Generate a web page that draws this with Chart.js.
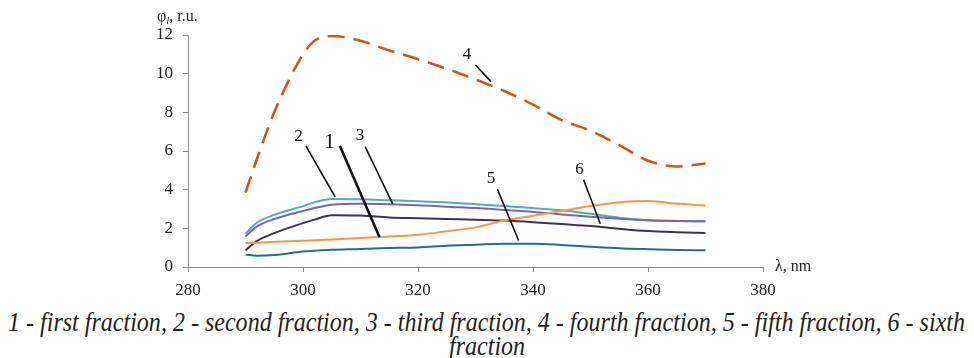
<!DOCTYPE html>
<html>
<head>
<meta charset="utf-8">
<script src="https://cdn.jsdelivr.net/npm/chart.js@4/dist/chart.umd.min.js"></script>
<style>
  body { margin: 0; background: #fff; width: 974px; height: 358px; overflow: hidden; }
  #wrap { position: relative; width: 974px; height: 300px; }
  #caption { position: absolute; left: 0; top: 300px; width: 974px; font-family: "Liberation Serif", serif; font-style: italic; color: #222; }
  #caption .l { position: absolute; white-space: nowrap; transform-origin: 0 0; font-size: 28px; line-height: 28px; }
</style>
</head>
<body>
<div id="wrap"><canvas id="chart" width="974" height="300"></canvas></div>
<div id="caption">
  <span class="l" id="cap1">1 - first fraction, 2 - second fraction, 3 - third fraction, 4 - fourth fraction, 5 - fifth fraction, 6 - sixth</span>
  <span class="l" id="cap2">fraction</span>
</div>
<script>
const wavelengths = [290, 292, 295, 300, 302, 305, 310, 315, 320, 325, 330, 335, 340, 345, 350, 355, 360, 365, 370];
const fraction1 = [0.86, 1.35, 1.75, 2.27, 2.45, 2.68, 2.66, 2.56, 2.52, 2.48, 2.45, 2.40, 2.32, 2.22, 2.12, 1.98, 1.86, 1.80, 1.76];
const fraction2 = [1.72, 2.30, 2.70, 3.15, 3.35, 3.52, 3.50, 3.45, 3.40, 3.34, 3.25, 3.15, 3.05, 2.93, 2.75, 2.55, 2.42, 2.38, 2.36];
const fraction3 = [1.58, 2.10, 2.48, 2.90, 3.05, 3.22, 3.27, 3.25, 3.20, 3.12, 3.05, 2.95, 2.85, 2.72, 2.60, 2.50, 2.42, 2.38, 2.36];
const fraction4 = [3.85, 5.60, 8.00, 11.0, 11.7, 11.95, 11.7, 11.2, 10.75, 10.25, 9.70, 9.10, 8.40, 7.60, 7.05, 6.30, 5.50, 5.20, 5.35];
const fraction5 = [0.64, 0.58, 0.62, 0.80, 0.84, 0.89, 0.93, 0.98, 1.01, 1.10, 1.15, 1.20, 1.20, 1.14, 1.05, 0.97, 0.92, 0.88, 0.86];
const fraction6 = [1.24, 1.26, 1.30, 1.36, 1.38, 1.42, 1.50, 1.58, 1.67, 1.85, 2.05, 2.40, 2.65, 2.90, 3.15, 3.35, 3.42, 3.28, 3.18];

const xTicks = [280, 300, 320, 340, 360, 380];
const yTicks = [0, 2, 4, 6, 8, 10, 12];

// callout labels: text, text position, leader line from/to (data units)
const callouts = [
  { text: '2', at: [299.2, 6.75], from: [300.5, 6.27], to: [305.6, 3.62], size: 17, width: 1.6 },
  { text: '1', at: [304.6, 6.45], from: [306.4, 6.27], to: [313.3, 1.55], size: 22, width: 2.6 },
  { text: '3', at: [309.9, 6.8], from: [310.8, 6.23], to: [315.6, 3.27], size: 17, width: 1.6 },
  { text: '4', at: [328.5, 10.97], from: [330.0, 10.45], to: [332.7, 9.59], size: 17, width: 1.6 },
  { text: '5', at: [332.7, 4.6], from: [333.8, 4.03], to: [337.5, 1.37], size: 17, width: 1.6 },
  { text: '6', at: [348.1, 5.06], from: [348.8, 4.51], to: [351.7, 2.24], size: 17, width: 1.6 }
];

function pts(values) {
  return values.map((v, i) => ({ x: wavelengths[i], y: v }));
}

function serie(values, color, dash, width) {
  return {
    data: pts(values),
    borderColor: color,
    borderWidth: width || 2,
    borderDash: dash || [],
    pointRadius: 0,
    fill: false,
    cubicInterpolationMode: 'monotone'
  };
}

const annotations = {
  id: 'annotations',
  afterDatasetsDraw(chart) {
    const ctx = chart.ctx;
    const xs = chart.scales.x, ys = chart.scales.y;
    ctx.save();
    ctx.fillStyle = '#111';
    ctx.strokeStyle = '#111';
    ctx.textAlign = 'center';
    ctx.textBaseline = 'middle';
    callouts.forEach(c => {
      ctx.lineWidth = c.width;
      ctx.beginPath();
      ctx.moveTo(xs.getPixelForValue(c.from[0]), ys.getPixelForValue(c.from[1]));
      ctx.lineTo(xs.getPixelForValue(c.to[0]), ys.getPixelForValue(c.to[1]));
      ctx.stroke();
      ctx.font = c.size + 'px "Liberation Serif"';
      ctx.fillText(c.text, xs.getPixelForValue(c.at[0]), ys.getPixelForValue(c.at[1]));
    });

    // axis titles
    ctx.textAlign = 'left';
    ctx.textBaseline = 'alphabetic';
    ctx.fillStyle = '#222';
    let x = 157, y = 21;
    ctx.font = '16px "Liberation Serif"';
    ctx.fillText('φ', x, y);
    x += ctx.measureText('φ').width;
    ctx.font = 'italic 11px "Liberation Serif"';
    ctx.fillText('l', x, y + 3);
    x += ctx.measureText('l').width;
    ctx.font = '16px "Liberation Serif"';
    ctx.fillText(', r.u.', x, y);

    ctx.fillText('λ, nm', xs.right + 12, ys.bottom + 4);
    ctx.restore();
  }
};

new Chart(document.getElementById('chart').getContext('2d'), {
  type: 'line',
  data: {
    datasets: [
      serie(fraction4, '#c55a1c', [17, 9], 2.6),
      serie(fraction6, '#f79646'),
      serie(fraction5, '#21707f'),
      serie(fraction1, '#403152'),
      serie(fraction3, '#8064a2'),
      serie(fraction2, '#4bacc6')
    ]
  },
  options: {
    responsive: false,
    animation: false,
    layout: { padding: { left: 0, right: 211, top: 35, bottom: 2 } },
    plugins: { legend: { display: false }, tooltip: { enabled: false } },
    scales: {
      x: {
        type: 'linear',
        min: 280,
        max: 380,
        afterBuildTicks: s => { s.ticks = xTicks.map(v => ({ value: v })); },
        afterFit: s => { s.height = 31; },
        grid: { drawOnChartArea: false, drawTicks: true, tickLength: 5, color: '#8a8a8a' },
        border: { color: '#8a8a8a', width: 1 },
        ticks: { color: '#222', padding: 8, font: { family: 'Liberation Serif', size: 17 } }
      },
      y: {
        min: 0,
        max: 12,
        afterBuildTicks: s => { s.ticks = yTicks.map(v => ({ value: v })); },
        afterFit: s => { s.width = 188; },
        grid: { drawOnChartArea: false, drawTicks: true, tickLength: 5, color: '#8a8a8a' },
        border: { color: '#8a8a8a', width: 1 },
        ticks: { color: '#222', padding: 10, font: { family: 'Liberation Serif', size: 17 } }
      }
    }
  },
  plugins: [annotations]
});

// caption, squeezed horizontally like the original
const cap1 = document.getElementById('cap1');
const cap2 = document.getElementById('cap2');
const sx = 957 / cap1.getBoundingClientRect().width;
cap1.style.left = '8px';
cap1.style.top = '8px';
cap1.style.transform = 'scaleX(' + sx + ')';
const w2 = cap2.getBoundingClientRect().width * sx;
cap2.style.left = (487 - w2 / 2) + 'px';
cap2.style.top = '32px';
cap2.style.transform = 'scaleX(' + sx + ')';
</script>
</body>
</html>
